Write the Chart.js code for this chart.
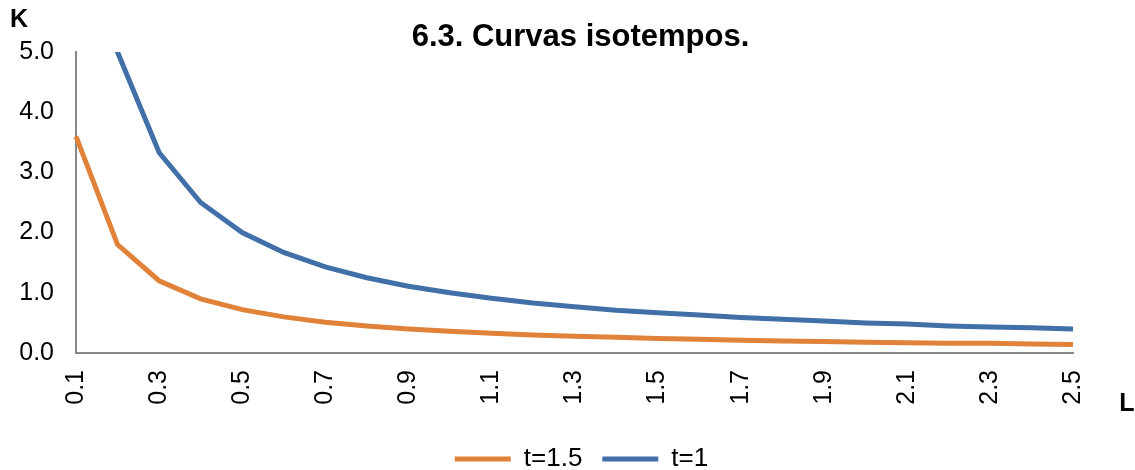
<!DOCTYPE html>
<html>
<head>
<meta charset="utf-8">
<script src="https://cdn.jsdelivr.net/npm/chart.js@4/dist/chart.umd.min.js"></script>
<style>
  html, body { margin: 0; padding: 0; background: #fff; }
  #wrap { width: 1135px; height: 470px; }
</style>
</head>
<body>
<div id="wrap"><canvas id="isoChart"></canvas></div>
<script>
// Datos
const valoresL = ['0.1', '0.2', '0.3', '0.4', '0.5', '0.6', '0.7', '0.8', '0.9', '1.0',
                  '1.1', '1.2', '1.3', '1.4', '1.5', '1.6', '1.7', '1.8', '1.9', '2.0',
                  '2.1', '2.2', '2.3', '2.4', '2.5'];
const kT15 = [3.6, 1.8, 1.2, 0.9, 0.72, 0.6, 0.51, 0.45, 0.4, 0.36,
              0.33, 0.3, 0.28, 0.26, 0.24, 0.23, 0.21, 0.2, 0.19, 0.18,
              0.17, 0.16, 0.16, 0.15, 0.14];
const kT1 = [10, 5, 3.33, 2.5, 2, 1.67, 1.43, 1.25, 1.11, 1,
             0.91, 0.83, 0.77, 0.71, 0.67, 0.63, 0.59, 0.56, 0.53, 0.5,
             0.48, 0.45, 0.43, 0.42, 0.4];
const ticksK = [0, 1, 2, 3, 4, 5];

const fuente = 'Arial, "Liberation Sans", sans-serif';

// Título y nombres de ejes
const textosExtra = {
    id: 'textosExtra',
    afterDraw(chart) {
        const { ctx, chartArea } = chart;
        ctx.save();
        ctx.fillStyle = '#000';
        ctx.textBaseline = 'middle';
        ctx.textAlign = 'center';
        ctx.font = 'bold 31px ' + fuente;
        ctx.fillText('6.3. Curvas isotempos.', (chartArea.left + chartArea.right) / 2 + 6, 37);
        ctx.font = 'bold 25px ' + fuente;
        ctx.fillText('K', 19, 20);
        ctx.fillText('L', 1127, 404);
        ctx.restore();
    }
};

// Leyenda: alto fijo y posición como en el original
const leyendaAjuste = {
    id: 'leyendaAjuste',
    beforeInit(chart) {
        const fitOrig = chart.legend.fit;
        chart.legend.fit = function () {
            fitOrig.call(this);
            this.height = 40;
        };
    },
    afterLayout(chart) {
        const lg = chart.legend;
        lg.top -= 4;
        lg.bottom -= 4;
        lg.left += 45;
        lg.right += 45;
    }
};

new Chart(document.getElementById('isoChart'), {
    type: 'line',
    data: {
        labels: valoresL,
        datasets: [{
            label: 't=1.5',
            data: kT15,
            borderColor: '#E0823A',
            backgroundColor: '#E0823A',
            borderWidth: 5,
            pointRadius: 0,
            tension: 0
        }, {
            label: 't=1',
            data: kT1,
            borderColor: '#4170A8',
            backgroundColor: '#4170A8',
            borderWidth: 5,
            pointRadius: 0,
            tension: 0
        }]
    },
    options: {
        responsive: true,
        maintainAspectRatio: false,
        animation: false,
        layout: { padding: { top: 52, right: 62, left: 0, bottom: 0 } },
        plugins: {
            title: { display: false },
            tooltip: { enabled: false },
            legend: {
                position: 'bottom',
                labels: {
                    usePointStyle: true,
                    pointStyle: 'line',
                    pointStyleWidth: 56,
                    color: '#000',
                    padding: 20,
                    font: { family: fuente, size: 26 }
                }
            }
        },
        scales: {
            x: {
                offset: false,
                afterFit: axis => { axis.height = 77; },
                grid: { display: false, drawTicks: false },
                border: { display: true, color: '#888', width: 2 },
                ticks: {
                    autoSkip: false,
                    maxRotation: 90,
                    minRotation: 90,
                    padding: 17,
                    color: '#000',
                    font: { family: fuente, size: 25 },
                    callback: (v, i) => (i % 2 === 0 ? valoresL[i] : '')
                }
            },
            y: {
                min: 0,
                max: 5,
                afterBuildTicks: axis => { axis.ticks = ticksK.map(v => ({ value: v })); },
                afterFit: axis => { axis.width = 76; },
                grid: { display: false, drawTicks: false },
                border: { display: true, color: '#888', width: 2 },
                ticks: {
                    padding: 22,
                    color: '#000',
                    font: { family: fuente, size: 25 },
                    callback: v => v.toFixed(1)
                }
            }
        }
    },
    plugins: [textosExtra, leyendaAjuste]
});
</script>
</body>
</html>
